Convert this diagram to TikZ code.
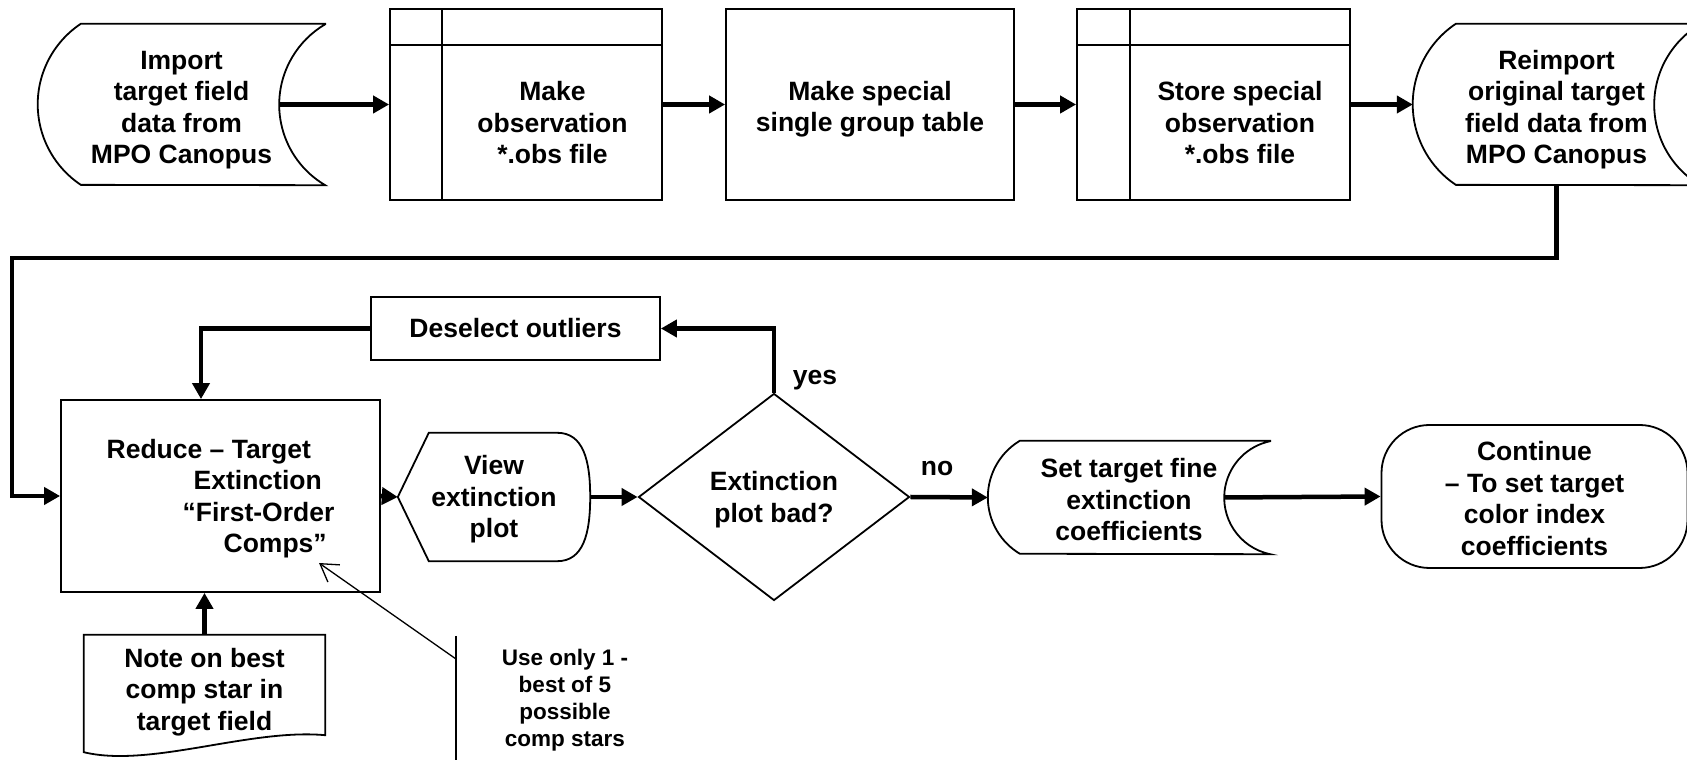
\documentclass[tikz,border=0pt]{standalone}
\usepackage{fontspec}
\setmainfont{Liberation Sans}
\usetikzlibrary{shapes.geometric,arrows.meta}

\tikzset{
  TextStyle/.style={font=\bfseries\fontsize{26.5}{31.5}\selectfont, align=center},
  SmallTextStyle/.style={font=\bfseries\fontsize{22.5}{27}\selectfont, align=center},
  BoxStyle/.style={TextStyle, draw, line width=1.8pt, inner sep=0pt},
  OutlineStyle/.style={line width=1.8pt},
  EdgeStyle/.style={line width=4.5pt, -{Triangle[length=16pt,width=17pt]}},
  NoteEdgeStyle/.style={line width=1.3pt},
}

\begin{document}
\begin{tikzpicture}[x=1pt,y=1pt]
\useasboundingbox (0,0) rectangle (1687,760);

\node[TextStyle, text height=124.5pt, minimum width=287pt, minimum height=161pt] (imp) at (181.5,655.5) {Import\\target field\\data from\\MPO Canopus};
\draw[OutlineStyle] (imp.north east) -- ([xshift=43pt]imp.north west)
  arc[start angle=123.7, end angle=236.3, radius=96.8pt] -- (imp.south east)
  arc[start angle=239.5, end angle=120.5, radius=93.4pt] -- cycle;

\node[BoxStyle, minimum width=272pt, minimum height=191pt] (obs) at (526,655.5) {};
\draw[OutlineStyle] ([xshift=53pt]obs.north west) -- ([xshift=53pt]obs.south west);
\draw[OutlineStyle] ([yshift=-37pt]obs.north west) -- ([yshift=-37pt]obs.north east);
\node[TextStyle] (obstext) at (552.5,637) {Make\\observation\\*.obs file};

\node[BoxStyle, text height=60.5pt, minimum width=288pt, minimum height=191pt] (spec) at (870,655.5) {Make special\\single group table};

\node[BoxStyle, minimum width=273pt, minimum height=191pt] (store) at (1213.5,655.5) {};
\draw[OutlineStyle] ([xshift=54pt]store.north west) -- ([xshift=54pt]store.south west);
\draw[OutlineStyle] ([yshift=-37pt]store.north west) -- ([yshift=-37pt]store.north east);
\node[TextStyle] (storetext) at (1240,637) {Store special\\observation\\*.obs file};

\node[TextStyle, text height=124.5pt, minimum width=287pt, minimum height=161pt] (reimp) at (1556.5,655.5) {Reimport\\original target\\field data from\\MPO Canopus};
\draw[OutlineStyle] (reimp.north east) -- ([xshift=43pt]reimp.north west)
  arc[start angle=123.7, end angle=236.3, radius=96.8pt] -- (reimp.south east)
  arc[start angle=239.5, end angle=120.5, radius=93.4pt] -- cycle;

\node[BoxStyle, text height=119.5pt, minimum width=319pt, minimum height=192pt, align=left] (reduce) at (220.5,264) {Reduce – Target\\\hspace*{87pt}Extinction\\\hspace*{76pt}“First-Order\\\hspace*{117pt}Comps”};

\node[BoxStyle, minimum width=289pt, minimum height=63pt] (desel) at (515.5,431.5) {Deselect outliers};

\node[TextStyle, text height=87pt, minimum width=192pt, minimum height=128pt] (view) at (494,263) {View\\extinction\\plot};
\draw[OutlineStyle] (view.west) -- ([xshift=31pt]view.north west) -- ([xshift=-33pt]view.north east)
  .. controls ([xshift=-7pt]view.north east) and ([yshift=37pt]view.east) .. (view.east)
  .. controls ([yshift=-37pt]view.east) and ([xshift=-7pt]view.south east) .. ([xshift=-33pt]view.south east)
  -- ([xshift=31pt]view.south west) -- cycle;

\node[TextStyle, text height=56.5pt, draw, diamond, line width=1.8pt, inner sep=0pt, aspect=1.31, minimum width=271pt, minimum height=207pt] (bad) at (774,263) {Extinction\\plot bad?};
\node[TextStyle] (yes) at (815,380) {yes};
\node[TextStyle] (no) at (937,292) {no};

\node[TextStyle, text height=87pt, minimum width=282pt, minimum height=113pt] (settgt) at (1129,262.5) {Set target fine\\extinction\\coefficients};
\draw[OutlineStyle] (settgt.north east) -- ([xshift=32pt]settgt.north west)
  arc[start angle=121, end angle=239, radius=65.9pt] -- (settgt.south east)
  arc[start angle=258.3, end angle=101.7, radius=57.7pt] -- cycle;

\node[BoxStyle, text height=118pt, rounded corners=48pt, minimum width=306pt, minimum height=143pt] (cont) at (1534.5,263.5) {Continue\\– To set target\\color index\\coefficients};

\node[TextStyle, text height=86pt, minimum width=241pt, minimum height=110pt] (note) at (204.5,70) {Note on best\\comp star in\\target field};
\draw[OutlineStyle] ([yshift=-7pt]note.south west) -- (note.north west) -- (note.north east) -- ([yshift=10pt]note.south east)
  .. controls ([xshift=-75pt,yshift=17pt]note.south east) and ([xshift=66pt,yshift=-23pt]note.south west) .. ([yshift=-7pt]note.south west) -- cycle;

\node[SmallTextStyle] (ann) at (565,59.5) {Use only 1 -\\best of 5\\possible\\comp stars};
\coordinate (anntop) at (456,124);
\coordinate (annbot) at (456,0);
\coordinate (annjoin) at (456,101);
\coordinate (annpoint) at (319,197);
\draw[NoteEdgeStyle] (anntop) -- (annbot);
\draw[NoteEdgeStyle, -{Straight Barb[length=17pt,width=21pt]}] (annjoin) -- (annpoint);

\draw[EdgeStyle] ([xshift=-46pt]imp.east) -- (obs.west);
\draw[EdgeStyle] (obs.east) -- (spec.west);
\draw[EdgeStyle] (spec.east) -- (store.west);
\draw[EdgeStyle] (store.east) -- (reimp.west);
\draw[EdgeStyle] (reimp.south) -- ++(0,-73) -| ([xshift=-48pt]reduce.west) -- (reduce.west);
\draw[EdgeStyle] (desel.west) -| ([xshift=-19.5pt]reduce.north);
\draw[EdgeStyle] (reduce.east) -- (view.west);
\draw[EdgeStyle] (view.east) -- (bad.west);
\draw[EdgeStyle] (bad.north) |- (desel.east);
\draw[EdgeStyle] (bad.east) -- (settgt.west);
\draw[EdgeStyle] ([xshift=-46pt]settgt.east) -- (cont.west);
\draw[EdgeStyle] (note.north) -- (note.north |- reduce.south);
\end{tikzpicture}
\end{document}
